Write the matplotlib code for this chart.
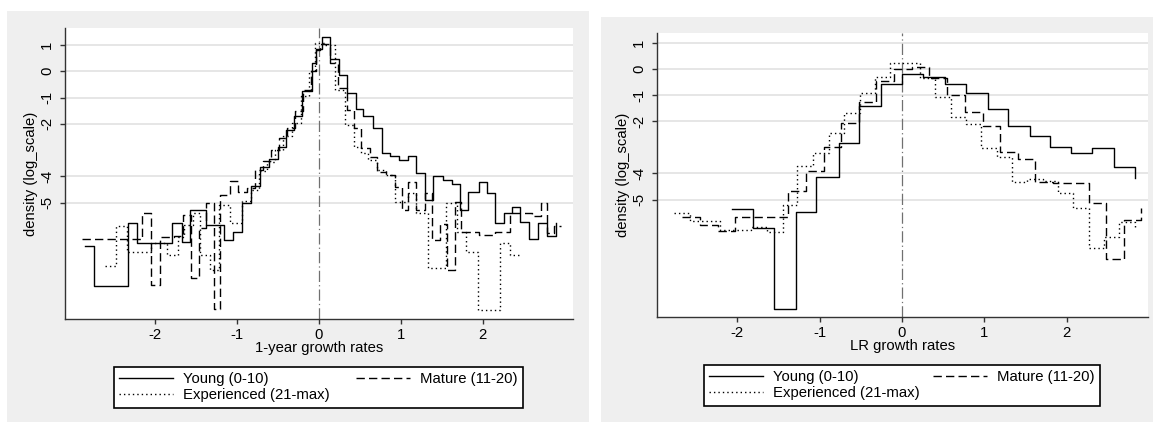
import matplotlib
matplotlib.use("Agg")
import matplotlib.pyplot as plt
from matplotlib.patches import Rectangle
from matplotlib.lines import Line2D

plt.rcParams['font.family'] = ['Liberation Sans', 'DejaVu Sans']

# ---------------- data ----------------
ytick_vals = [1, 0, -1, -2, -4, -5]
ytick_labels = ['1', '0', '-1', '-2', '-4', '-5']
xtick_vals = [-2, -1, 0, 1, 2]
xtick_labels = ['-2', '-1', '0', '1', '2']
series_names = ['Young (0-10)', 'Mature (11-20)', 'Experienced (21-max)']
xlabels = ['1-year growth rates', 'LR growth rates']
ylabel = 'density (log_scale)'

# Panel 1: 1-year growth rates (step points, post)
p1_young_x = [-2.85, -2.74, -2.32, -2.22, -1.79, -1.67, -1.57, -1.37, -1.15, -1.04, -0.93, -0.82,
              -0.71, -0.61, -0.50, -0.40, -0.30, -0.20, -0.08, -0.03, 0.04, 0.14, 0.25, 0.34,
              0.45, 0.54, 0.66, 0.77, 0.87, 0.98, 1.09, 1.19, 1.30, 1.39, 1.51, 1.62,
              1.72, 1.82, 1.95, 2.05, 2.15, 2.26, 2.36, 2.46, 2.57, 2.67, 2.78, 2.89]
p1_young_y = [-6.63, -8.15, -5.78, -6.52, -5.78, -6.48, -5.27, -5.84, -6.41, -6.10, -5.02, -4.36,
              -3.63, -3.35, -2.87, -2.23, -1.69, -0.74, 0.33, 0.85, 1.32, 0.47, -0.14, -0.81,
              -1.44, -1.69, -2.17, -3.09, -3.22, -3.37, -3.22, -3.88, -4.89, -3.97, -4.13, -4.29,
              -5.27, -4.58, -4.20, -4.64, -5.78, -5.38, -5.15, -5.72, -6.39, -5.76, -6.26, -5.76]

p1_mature_x = [-2.89, -2.15, -2.04, -1.94, -1.77, -1.66, -1.56, -1.46, -1.37, -1.28, -1.20, -1.08,
               -0.98, -0.88, -0.78, -0.68, -0.58, -0.48, -0.39, -0.29, -0.19, -0.10, -0.03, 0.02,
               0.14, 0.24, 0.34, 0.43, 0.52, 0.62, 0.71, 0.82, 0.93, 1.01, 1.09, 1.19,
               1.30, 1.38, 1.48, 1.56, 1.66, 1.74, 1.95, 2.15, 2.33, 2.60, 2.71, 2.78, 2.87, 2.95]
p1_mature_y = [-6.39, -5.39, -8.13, -6.29, -6.25, -5.46, -7.87, -5.97, -5.02, -9.05, -4.70, -4.16,
               -4.58, -4.45, -3.75, -3.40, -3.00, -2.55, -2.15, -1.50, -0.72, 0.00, 0.81, 1.03,
               0.30, -0.65, -1.47, -2.17, -2.93, -3.25, -3.82, -3.94, -4.39, -5.27, -4.20, -5.27,
               -4.64, -6.41, -5.80, -7.55, -4.96, -6.10, -6.22, -6.10, -5.40, -5.50, -5.02, -6.15, -5.90, -5.90]

p1_exp_x = [-2.61, -2.47, -2.34, -2.04, -1.85, -1.71, -1.64, -1.53, -1.45, -1.32, -1.21, -1.08,
            -0.94, -0.83, -0.73, -0.63, -0.53, -0.43, -0.33, -0.22, -0.12, -0.05, 0.06, 0.20,
            0.32, 0.43, 0.52, 0.60, 0.71, 0.82, 0.93, 1.09, 1.19, 1.33, 1.55, 1.69,
            1.80, 1.94, 2.21, 2.33, 2.47]
p1_exp_y = [-7.39, -5.88, -6.86, -6.52, -7.00, -6.29, -5.86, -5.40, -6.99, -7.56, -5.09, -5.78,
            -4.95, -4.50, -3.80, -3.45, -3.00, -2.45, -1.95, -0.95, 0.00, 1.06, 1.00, -0.71,
            -2.04, -2.87, -3.10, -3.37, -3.75, -3.95, -4.96, -4.63, -5.40, -7.49, -5.02, -6.10,
            -6.86, -9.08, -6.52, -7.00, -7.00]

# Panel 2: LR growth rates
p2_young_x = [-2.07, -1.81, -1.56, -1.29, -1.04, -0.77, -0.52, -0.26, 0.00, 0.26, 0.52, 0.78,
              1.04, 1.29, 1.55, 1.80, 2.05, 2.31, 2.58, 2.83]
p2_young_y = [-5.38, -6.08, -9.21, -5.47, -4.15, -2.85, -1.42, -0.59, -0.20, -0.32, -0.59, -0.91,
              -1.54, -2.18, -2.55, -2.98, -3.21, -3.04, -3.74, -4.19]

p2_mature_x = [-2.67, -2.45, -2.24, -2.03, -1.81, -1.60, -1.38, -1.17, -0.95, -0.74, -0.52, -0.31,
               -0.10, 0.12, 0.33, 0.55, 0.76, 0.98, 1.19, 1.41, 1.62, 1.84, 2.05, 2.27,
               2.48, 2.70, 2.90]
p2_mature_y = [-5.68, -5.98, -6.21, -5.66, -5.66, -5.66, -4.67, -3.91, -2.98, -2.06, -1.25, -0.46,
               0.00, 0.09, -0.33, -1.00, -1.64, -2.18, -3.16, -3.46, -4.34, -4.38, -4.38, -5.15,
               -7.28, -5.79, -5.34]

p2_exp_x = [-2.77, -2.58, -2.40, -2.21, -2.02, -1.83, -1.64, -1.45, -1.27, -1.08, -0.89, -0.70,
            -0.51, -0.33, -0.14, 0.03, 0.22, 0.40, 0.59, 0.78, 0.96, 1.15, 1.34, 1.52,
            1.71, 1.90, 2.08, 2.27, 2.46, 2.64, 2.83]
p2_exp_y = [-5.50, -5.82, -5.82, -6.17, -6.17, -6.04, -6.23, -5.21, -3.70, -3.21, -2.44, -1.70,
            -0.91, -0.29, 0.24, 0.24, -0.36, -1.08, -1.85, -2.11, -3.01, -3.38, -4.34, -4.20,
            -4.30, -4.74, -5.31, -6.87, -6.45, -5.85, -6.10]

# ---------------- layout ----------------
W, H = 1153, 422
fig = plt.figure(figsize=(W / 100, H / 100), dpi=100)
fig.patch.set_facecolor('white')

BG = '#efefef'
GRID = '#e4e4e4'
FS = 10.7


def fbox(x0, y0, x1, y1):
    return [x0 / W, 1 - y1 / H, (x1 - x0) / W, (y1 - y0) / H]


panels = [
    dict(bg=(7, 11, 589, 422), ax=(65, 28, 573, 319), xlim=(-3.094, 3.101), ylim=(-9.42, 1.646),
         leg=(114, 367, 523, 414), xlabel=xlabels[0],
         series=[(p1_young_x, p1_young_y), (p1_mature_x, p1_mature_y), (p1_exp_x, p1_exp_y)]),
    dict(bg=(601, 17, 1153, 422), ax=(657, 33, 1148, 317), xlim=(-2.977, 2.989), ylim=(-9.50, 1.38),
         leg=(704, 365, 1100, 410), xlabel=xlabels[1],
         series=[(p2_young_x, p2_young_y), (p2_mature_x, p2_mature_y), (p2_exp_x, p2_exp_y)]),
]

styles = [dict(linestyle='-'), dict(dashes=(6, 3)), dict(dashes=(1, 2.2))]

for p in panels:
    x0, y0, x1, y1 = p['bg']
    fig.add_artist(Rectangle((x0 / W, 1 - y1 / H), (x1 - x0) / W, (y1 - y0) / H,
                             transform=fig.transFigure, facecolor=BG, edgecolor='none', zorder=0))
    ax = fig.add_axes(fbox(*p['ax']))
    ax.set_facecolor('white')
    ax.set_xlim(*p['xlim'])
    ax.set_ylim(*p['ylim'])
    for s in ['top', 'right']:
        ax.spines[s].set_visible(False)
    for s in ['left', 'bottom']:
        ax.spines[s].set_color('#333333')
        ax.spines[s].set_linewidth(1.0)
    ax.set_yticks(ytick_vals)
    ax.set_yticklabels(ytick_labels, rotation=90, va='center', fontsize=FS)
    ax.set_xticks(xtick_vals)
    ax.set_xticklabels(xtick_labels, fontsize=FS)
    ax.tick_params(axis='both', direction='out', length=3.8, width=1.0, color='#333333')
    ax.tick_params(axis='y', pad=4)
    ax.tick_params(axis='x', pad=3)
    ax.yaxis.grid(True, color=GRID, linewidth=1.3)
    ax.set_axisbelow(True)
    ax.axvline(0, color='#707070', linewidth=0.9, dashes=(9, 2.5, 1, 2.5), zorder=1)

    handles = []
    for (sx, sy), name, st in zip(p['series'], series_names, styles):
        ln, = ax.step(sx, sy, where='post', color='black', linewidth=1.0, label=name, zorder=3, **st)
        handles.append(ln)

    ax.set_xlabel(p['xlabel'], fontsize=FS, labelpad=0)
    ax.set_ylabel(ylabel, fontsize=FS)
    axh = p['ax'][3] - p['ax'][1]
    axw = p['ax'][2] - p['ax'][0]
    ax.xaxis.set_label_coords(0.5, -(341 - 319) / axh)
    ax.yaxis.set_label_coords(-34 / axw, 0.5)
    ax.yaxis.label.set_va('center')

    lx0, ly0, lx1, ly1 = p['leg']
    leg = fig.legend([handles[0], handles[2], handles[1]],
                     [series_names[0], series_names[2], series_names[1]],
                     ncol=2, loc='upper left', mode='expand',
                     bbox_to_anchor=(lx0 / W, 1 - ly1 / H, (lx1 - lx0) / W, (ly1 - ly0) / H),
                     borderaxespad=0, frameon=True, fancybox=False, framealpha=1,
                     edgecolor='black', fontsize=FS, handlelength=3.6, handletextpad=0.7,
                     columnspacing=1.5, labelspacing=0.15, borderpad=0.35)
    leg.get_frame().set_linewidth(1.2)

fig.savefig('out.png', dpi=100, facecolor='white')
